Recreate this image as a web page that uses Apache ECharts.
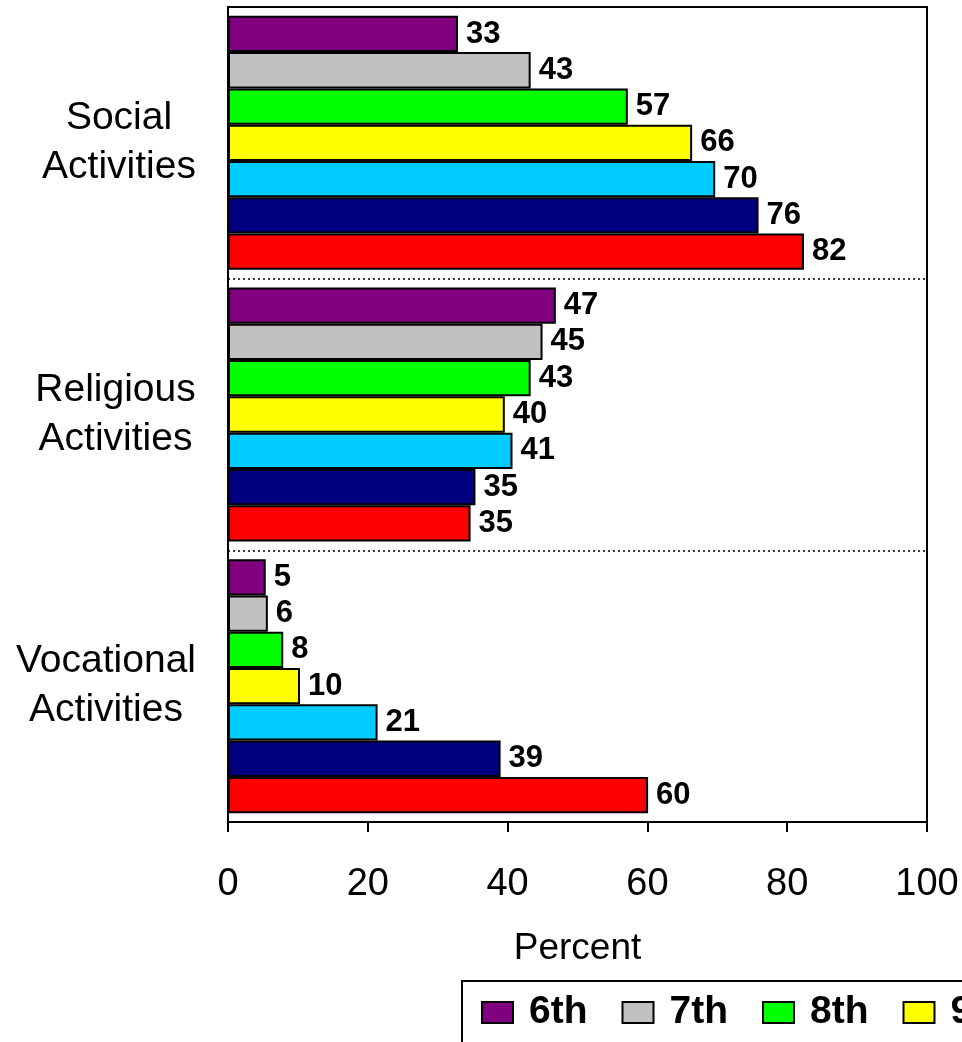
<!DOCTYPE html>
<html>
<head>
<meta charset="utf-8">
<script src="https://cdn.jsdelivr.net/npm/echarts@6/dist/echarts.min.js"></script>
<style>
  html, body { margin: 0; padding: 0; background: #fff; }
  #chart { width: 962px; height: 1042px; }
</style>
</head>
<body>
<div id="chart"></div>
<script>
// ---- data ----
const categories = ['Social\nActivities', 'Religious\nActivities', 'Vocational\nActivities'];
const seriesNames = ['6th', '7th', '8th', '9th', '10th', '11th', '12th'];
const grade6  = [32.9, 46.9, 5.4];
const grade7  = [43.3, 45.0, 5.7];
const grade8  = [57.2, 43.3, 7.9];
const grade9  = [66.4, 39.6, 10.3];
const grade10 = [69.7, 40.7, 21.4];
const grade11 = [75.9, 35.4, 39.0];
const grade12 = [82.4, 34.7, 60.1];
const xTicks = [0, 20, 40, 60, 80, 100];
const xAxisTitle = 'Percent';

// ---- styles ----
const seriesValues = [grade6, grade7, grade8, grade9, grade10, grade11, grade12];
const colors = ['#800080', '#C0C0C0', '#00FF00', '#FFFF00', '#00CCFF', '#000080', '#FF0000'];
const FONT = '"Liberation Sans", Arial, Helvetica, sans-serif';
const catFontSize = 39;

// measure widest line of each category label so lines are centered within a right-aligned block
const ctx = document.createElement('canvas').getContext('2d');
ctx.font = catFontSize + 'px "Liberation Sans"';
const rich = {};
categories.forEach((c, i) => {
  const w = Math.max(...c.split('\n').map(l => ctx.measureText(l).width));
  rich['c' + i] = {
    width: Math.ceil(w), align: 'center',
    fontSize: catFontSize, lineHeight: 49, fontFamily: FONT, color: '#000'
  };
});

const chart = echarts.init(document.getElementById('chart'), null, { renderer: 'canvas' });

const option = {
  animation: false,
  backgroundColor: '#fff',
  textStyle: { fontFamily: FONT },
  grid: {
    left: 228, right: 35, top: 7, bottom: 220,
    show: true, borderColor: '#000', borderWidth: 2, backgroundColor: 'transparent'
  },
  legend: {
    data: seriesNames,
    left: 462, top: 981,
    width: 1400,
    orient: 'horizontal',
    padding: [12, 20, 14, 19],
    borderColor: '#000', borderWidth: 2,
    backgroundColor: '#fff',
    itemWidth: 31, itemHeight: 21,
    itemGap: 34,
    icon: 'rect',
    textStyle: {
      fontSize: 39, fontWeight: 'bold', color: '#000', fontFamily: FONT,
      padding: [0, 0, 0, 11]
    }
  },
  xAxis: {
    type: 'value',
    min: xTicks[0], max: xTicks[xTicks.length - 1], interval: xTicks[1] - xTicks[0],
    name: xAxisTitle,
    nameLocation: 'middle',
    nameGap: 108,
    nameTextStyle: { fontSize: 37, color: '#000', fontFamily: FONT },
    axisLine: { show: true, lineStyle: { color: '#000', width: 2 } },
    axisTick: { show: true, length: 10, lineStyle: { color: '#000', width: 2 } },
    axisLabel: { fontSize: 38, color: '#000', margin: 44, fontFamily: FONT },
    splitLine: { show: false }
  },
  yAxis: {
    type: 'category',
    data: categories,
    inverse: true,
    axisLine: { show: true, lineStyle: { color: '#000', width: 2 } },
    axisTick: { show: false },
    axisLabel: {
      margin: 32,
      align: 'right',
      formatter: (value, index) => value.split('\n').map(l => '{c' + index + '|' + l + '}').join('\n'),
      rich: rich
    },
    splitLine: { show: true, lineStyle: { color: '#000', type: [2, 3], width: 1.5 } }
  },
  series: seriesNames.map((name, i) => ({
    name: name,
    type: 'bar',
    data: seriesValues[i],
    barGap: '0%',
    barCategoryGap: '6.5%',
    itemStyle: { color: colors[i], borderColor: '#000', borderWidth: 2 },
    label: {
      show: true, position: 'right', distance: 8,
      formatter: p => String(Math.round(p.value)),
      fontSize: 31, fontWeight: 'bold', color: '#000', fontFamily: FONT
    }
  }))
};

chart.setOption(option);
</script>
</body>
</html>
